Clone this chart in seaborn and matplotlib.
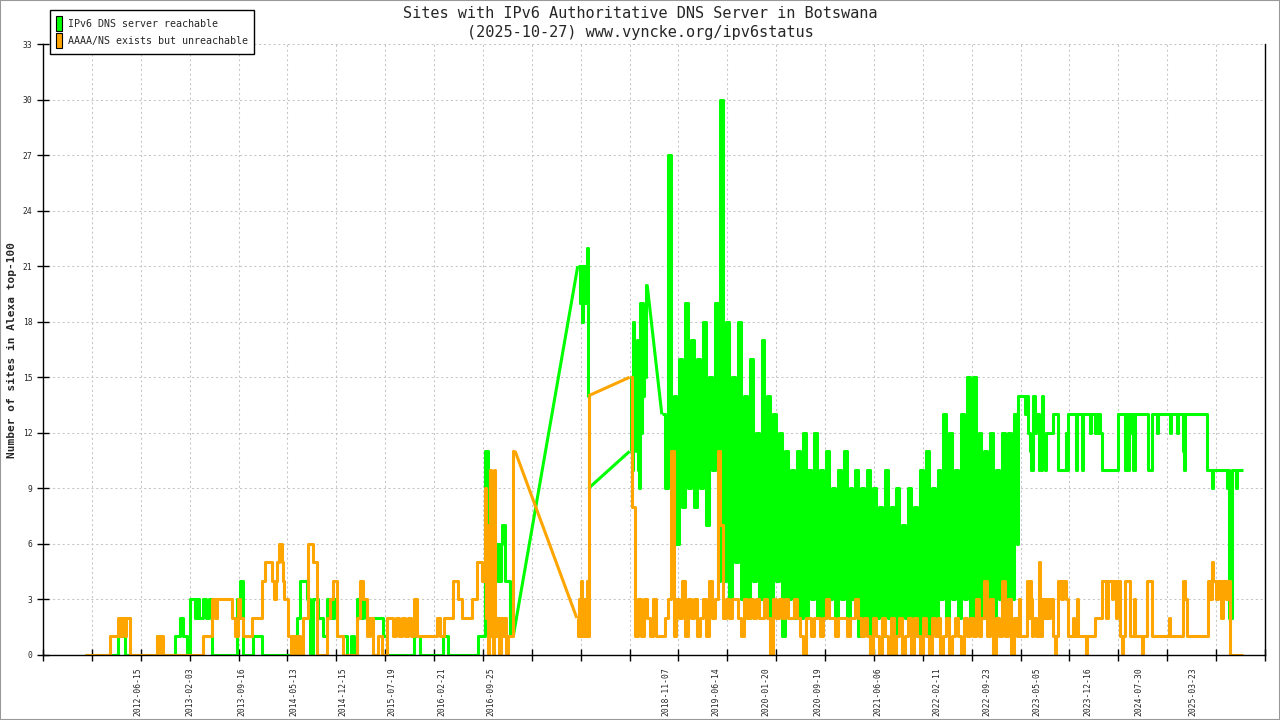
import numpy as np
import matplotlib
matplotlib.use("Agg")
import matplotlib.pyplot as plt
from matplotlib.patches import Patch, Rectangle
import seaborn as sns

sns.set_theme(style="white")
plt.rcParams['font.family'] = ['DejaVu Sans Mono']

GREEN = "#00ff00"
ORANGE = "#ffa500"

# x axis = row number in the status file (one row per sample), labels every ~n rows
label_rows = [97, 150, 203, 257, 307, 357, 408, 458, 637, 688, 740, 793, 854,
              914, 966, 1017, 1069, 1121, 1176]
label_dates = ["2012-06-15", "2013-02-03", "2013-09-16", "2014-05-13", "2014-12-15",
               "2015-07-19", "2016-02-21", "2016-09-25", "2018-11-07", "2019-06-14",
               "2020-01-20", "2020-09-19", "2021-06-06", "2022-02-11", "2022-09-23",
               "2023-05-05", "2023-12-16", "2024-07-30", "2025-03-23"]

# ---- IPv6 DNS server reachable (green) ----
green_early_rows = [43, 77, 79, 82, 84, 117, 122, 135, 140, 143, 147, 150, 155, 158, 160,
                    164, 167, 170, 173, 198, 202, 205, 215, 224, 260, 263, 270, 273, 276,
                    281, 286, 290, 295, 298, 301, 311, 315, 318, 321, 324, 327, 330, 348,
                    352, 379, 386, 409, 414, 445, 452, 455, 456, 458, 459, 461, 462, 464,
                    466, 468, 470, 473, 478, 481]
green_early_vals = [0, 1, 2, 1, 0, 1, 0, 1, 2, 1, 0, 3, 2, 3, 2,
                    3, 2, 3, 0, 3, 4, 0, 1, 0, 2, 4, 3, 0, 3,
                    2, 1, 3, 2, 3, 1, 0, 1, 0, 3, 2, 3, 2, 1,
                    0, 1, 0, 1, 0, 1, 11, 5, 9, 6, 9, 5, 4, 6,
                    4, 6, 7, 4, 1, 1]

green_peak_rows = [547, 549, 550, 551, 552, 553, 554, 555, 556, 557, 558]
green_peak_vals = [21, 19, 21, 18, 21, 20, 19, 21, 22, 14, 9]

green_rise_rows = [600, 601, 602, 604, 605, 606, 607, 608, 609, 610, 611, 612, 613, 614,
                   615, 616, 617, 618]
green_rise_vals = [11, 15, 10, 18, 13, 16, 11, 17, 10, 9, 19, 12, 19, 14,
                   17, 15, 20, 20]

green_dense_start = 633
green_dense_vals = [13, 9,
                    27, 9, 14, 6, 16, 8, 19, 9,
                    17, 8, 16, 9, 18, 7, 15, 10, 19, 4,
                    30,
                    4, 18, 3, 15, 5, 18, 3,
                    14, 2, 16, 4, 12, 3,
                    17, 3, 14, 2, 13, 4, 12,
                    1, 11, 3, 10, 2, 11, 2,
                    12, 2, 10, 3, 12, 2, 10,
                    2, 11, 3, 9, 2, 10, 3,
                    11, 2, 9, 3, 10, 1, 9,
                    2, 10, 0, 9, 2, 8, 1,
                    10, 2, 8, 0, 9, 2, 7,
                    2, 9, 2, 8, 1, 10, 2,
                    11, 1, 9, 2, 10, 3, 13,
                    2, 12, 3, 10, 2, 13, 3,
                    15, 2, 15, 3, 12, 2, 11,
                    3, 12, 1, 10, 3, 12, 2,
                    12, 3, 13, 6]

green_late_rows = [997, 1005, 1006, 1008, 1010, 1011, 1013, 1015, 1016, 1019, 1022, 1023,
                   1025, 1026, 1033, 1038, 1046, 1047, 1048, 1057, 1058, 1063, 1064, 1071,
                   1072, 1076, 1077, 1079, 1080, 1081, 1083, 1100, 1107, 1108, 1110, 1111,
                   1113, 1114, 1115, 1117, 1130, 1134, 1140, 1141, 1153, 1154, 1160, 1161,
                   1166, 1167, 1168, 1191, 1196, 1197, 1211, 1212, 1213, 1216, 1220, 1221,
                   1228]
green_late_vals = [14, 13, 14, 12, 11, 10, 14, 12, 13, 10, 14, 11,
                   10, 12, 13, 10, 12, 10, 13, 10, 13, 10, 13, 12,
                   13, 12, 13, 12, 13, 12, 10, 13, 10, 13, 10, 13,
                   12, 13, 10, 13, 10, 13, 12, 13, 12, 13, 12, 13,
                   11, 10, 13, 10, 9, 10, 9, 10, 2, 10, 9, 10,
                   10]

# ---- AAAA/NS exists but unreachable (orange) ----
orange_early_rows = [43, 69, 77, 79, 81, 84, 85, 89, 117, 119, 121, 123, 164, 173, 176,
                     178, 193, 196, 199, 202, 205, 214, 224, 227, 234, 236, 238, 239, 241,
                     244, 245, 247, 251, 254, 256, 258, 260, 263, 266, 271, 276, 280, 291,
                     294, 297, 301, 307, 321, 324, 327, 331, 334, 338, 343, 347, 352, 358,
                     361, 364, 367, 370, 373, 376, 379, 383, 403, 406, 410, 419, 425, 429,
                     439, 444, 449, 452, 453, 454, 455, 456, 457, 458, 459, 460, 461, 462,
                     464, 466, 468, 470, 472, 474, 476, 481, 483]
orange_early_vals = [0, 1, 2, 1, 2, 1, 2, 0, 1, 0, 1, 0, 1, 3, 2,
                     3, 2, 1, 3, 2, 1, 2, 4, 5, 4, 3, 4, 5, 6,
                     5, 4, 3, 1, 0, 1, 0, 1, 0, 2, 6, 5, 0, 2,
                     3, 4, 1, 0, 2, 4, 3, 1, 2, 0, 1, 0, 2, 1,
                     2, 1, 2, 1, 2, 1, 3, 1, 2, 1, 2, 4, 3, 2,
                     3, 5, 4, 9, 2, 7, 0, 5, 10, 1, 8, 0, 10, 1,
                     2, 0, 2, 1, 2, 0, 1, 11, 11]

orange_mid_rows = [546, 547, 548, 549, 550, 551, 552, 553, 554, 555, 556, 557, 558]
orange_mid_vals = [2, 1, 3, 1, 4, 2, 1, 3, 2, 1, 4, 1, 14]

orange_dense_start = 600
orange_dense_vals = [15,
                     8, 1, 3, 1, 3, 2, 1, 3, 1, 1, 1,
                     2, 3, 11, 1, 3, 2, 4, 1, 3, 2,
                     3, 1, 2, 3, 1, 4, 2, 3, 11, 7,
                     2, 3, 2, 3, 3, 2, 1, 3, 2, 3,
                     2, 3, 2, 2, 3, 2, 0, 3, 2, 3,
                     2, 3, 2, 2, 3, 2, 1, 0, 2, 2,
                     1, 2, 2, 1, 2, 3, 2, 2, 1, 2,
                     2, 2, 1, 2, 2, 3, 2, 1, 2, 1,
                     0, 2, 1, 0, 2, 1, 0, 2, 0, 1,
                     2, 0, 1, 2, 0, 2, 1, 0, 2, 1,
                     0, 2, 1, 2, 0, 1, 2, 0, 1, 2,
                     1, 0, 2, 1, 2, 1, 3, 1, 2, 4,
                     1, 3, 0, 2, 1, 4, 1, 3, 0, 2,
                     1, 3]

orange_late_rows = [998, 1007, 1008, 1010, 1011, 1012, 1013, 1016, 1019, 1020, 1022, 1024,
                    1026, 1028, 1030, 1033, 1035, 1036, 1038, 1041, 1043, 1046, 1048, 1054,
                    1055, 1058, 1059, 1067, 1068, 1076, 1083, 1087, 1089, 1093, 1095, 1098,
                    1099, 1102, 1104, 1105, 1107, 1112, 1116, 1117, 1124, 1125, 1129, 1134,
                    1152, 1153, 1166, 1168, 1170, 1192, 1194, 1196, 1197, 1200, 1202, 1205,
                    1207, 1210, 1212, 1214, 1228]
orange_late_vals = [1, 4, 2, 4, 3, 1, 2, 1, 5, 1, 3, 2,
                    3, 2, 3, 1, 0, 1, 4, 3, 4, 3, 1, 2,
                    1, 3, 1, 0, 1, 2, 4, 2, 4, 3, 4, 2,
                    4, 1, 0, 1, 4, 1, 3, 1, 0, 1, 4, 1,
                    2, 1, 4, 3, 1, 4, 3, 5, 4, 3, 4, 2,
                    4, 3, 4, 0, 0]


def dense(start, vals):
    return list(start + 3 * np.arange(len(vals))), list(vals)


gd_rows, gd_vals = dense(green_dense_start, green_dense_vals)
od_rows, od_vals = dense(orange_dense_start, orange_dense_vals)

green_pieces = [
    (green_early_rows, green_early_vals),
    (green_peak_rows, green_peak_vals),
    (green_rise_rows, green_rise_vals),
    (gd_rows + green_late_rows, gd_vals + green_late_vals),
]
orange_pieces = [
    (orange_early_rows, orange_early_vals),
    (orange_mid_rows, orange_mid_vals),
    (od_rows + orange_late_rows, od_vals + orange_late_vals),
]

fig = plt.figure(figsize=(12.8, 7.2), dpi=100)
ax = fig.add_axes([43 / 1280, 65 / 720, 1222 / 1280, 611 / 720])


def draw(pieces, color):
    kw = dict(ax=ax, color=color, linewidth=2.2, estimator=None, sort=False,
              legend=False, solid_capstyle='butt')
    for rows, vals in pieces:
        sns.lineplot(x=rows, y=vals, drawstyle='steps-post', **kw)
    # missing days: gnuplot just joins the rows on either side
    for (r0, v0), (r1, v1) in zip(pieces[:-1], pieces[1:]):
        sns.lineplot(x=[r0[-1], r1[0]], y=[v0[-1], v1[0]], **kw)


draw(green_pieces, GREEN)
draw(orange_pieces, ORANGE)

ax.set_xlim(0, 1250)
ax.set_ylim(0, 33)
ax.set_yticks(range(0, 34, 3))
ax.xaxis.remove_overlapping_locs = False
ax.set_xticks(range(0, 1251, 50))
ax.set_xticklabels([])
ax.set_xticks(label_rows, minor=True)
ax.set_xticklabels(label_dates, minor=True, rotation=90, fontsize=5.8)
ax.tick_params(which='major', direction='inout', length=9, width=1, color='black',
               labelsize=5.8, pad=3)
ax.tick_params(axis='x', which='minor', length=0, pad=9)
ax.tick_params(left=True, bottom=True)
ax.grid(True, which='major', color='#c6c6c6', linestyle=(0, (2.0, 2.6)), linewidth=0.75)
ax.set_axisbelow(True)
ax.set_xlabel("")
ax.set_ylabel("")
for side in ['left', 'right', 'bottom']:
    ax.spines[side].set_color('black')
    ax.spines[side].set_linewidth(1)
ax.spines['top'].set_visible(False)

fig.text(12 / 1280, 1 - 350 / 720, "Number of sites in Alexa top-100", rotation=90,
         ha='center', va='center', fontsize=8, fontweight='bold')
fig.text(0.5, 1 - 13 / 720, "Sites with IPv6 Authoritative DNS Server in Botswana",
         ha='center', va='center', fontsize=11)
fig.text(0.5, 1 - 32 / 720, "(2025-10-27) www.vyncke.org/ipv6status",
         ha='center', va='center', fontsize=11)

handles = [Patch(facecolor=GREEN, edgecolor='black', linewidth=0.8,
                 label="IPv6 DNS server reachable"),
           Patch(facecolor=ORANGE, edgecolor='black', linewidth=0.8,
                 label="AAAA/NS exists but unreachable")]
leg = fig.legend(handles=handles, loc='upper left', bbox_to_anchor=(50 / 1280, 1 - 10 / 720),
                 bbox_transform=fig.transFigure, fontsize=7.2, frameon=True, fancybox=False,
                 edgecolor='black', framealpha=1, handlelength=0.6, handleheight=1.95,
                 handletextpad=0.6, labelspacing=0.2, borderpad=0.6, borderaxespad=0)
leg.get_frame().set_linewidth(1)

fig.patches.append(Rectangle((0, 0), 1, 1, transform=fig.transFigure, fill=False,
                             edgecolor='#999999', linewidth=1.5))

fig.savefig("out.png", dpi=100)
plt.close(fig)
